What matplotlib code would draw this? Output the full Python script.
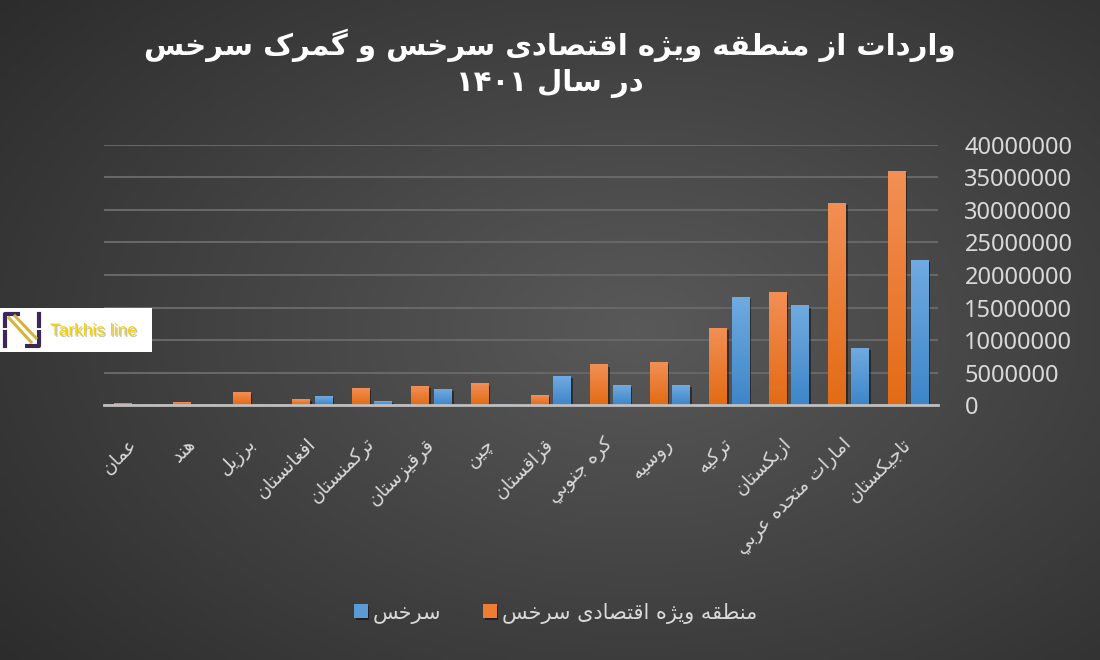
import re
import numpy as np
import matplotlib
matplotlib.use("Agg")
import matplotlib.pyplot as plt
import matplotlib.patheffects as pe
from matplotlib.colors import LinearSegmentedColormap
from matplotlib.patches import Rectangle
from matplotlib.ticker import FuncFormatter

# data
countries = ["عمان", "هند", "برزیل", "افغانستان", "ترکمنستان", "قرقیزستان", "چین",
             "قزاقستان", "کره جنوبي", "روسیه", "ترکیه", "ازبکستان",
             "امارات متحده عربي", "تاجیکستان"]
zone_vals = [200000, 400000, 1900000, 800000, 2600000, 2800000, 3250000,
             1450000, 6150000, 6600000, 11750000, 17200000, 30900000, 35900000]
customs_vals = [0, 0, 0, 1300000, 600000, 2400000, 100000,
                4350000, 3000000, 3000000, 16500000, 15200000, 8650000, 22150000]
zone_name = "منطقه ویژه اقتصادی سرخس"
customs_name = "سرخس"
title_1 = "واردات از منطقه ویژه اقتصادی سرخس و گمرک سرخس"
title_2 = "در سال ۱۴۰۱"
yticks = np.arange(0, 40000001, 5000000)

# --- minimal arabic/persian shaping (matplotlib has no complex text layout) ---
FORMS = {
    'ا': '\uFE8D\uFE8E', 'د': '\uFEA9\uFEAA', 'ر': '\uFEAD\uFEAE', 'ز': '\uFEAF\uFEB0',
    'ژ': '\uFB8A\uFB8B', 'و': '\uFEED\uFEEE',
    'ب': '\uFE8F\uFE90\uFE91\uFE92', 'ت': '\uFE95\uFE96\uFE97\uFE98',
    'ج': '\uFE9D\uFE9E\uFE9F\uFEA0', 'ح': '\uFEA1\uFEA2\uFEA3\uFEA4',
    'خ': '\uFEA5\uFEA6\uFEA7\uFEA8', 'س': '\uFEB1\uFEB2\uFEB3\uFEB4',
    'ص': '\uFEB9\uFEBA\uFEBB\uFEBC', 'ط': '\uFEC1\uFEC2\uFEC3\uFEC4',
    'ع': '\uFEC9\uFECA\uFECB\uFECC', 'غ': '\uFECD\uFECE\uFECF\uFED0',
    'ف': '\uFED1\uFED2\uFED3\uFED4', 'ق': '\uFED5\uFED6\uFED7\uFED8',
    'ل': '\uFEDD\uFEDE\uFEDF\uFEE0', 'م': '\uFEE1\uFEE2\uFEE3\uFEE4',
    'ن': '\uFEE5\uFEE6\uFEE7\uFEE8', 'ه': '\uFEE9\uFEEA\uFEEB\uFEEC',
    'ي': '\uFEF1\uFEF2\uFEF3\uFEF4', 'ی': '\uFBFC\uFBFD\uFBFE\uFBFF',
    'ک': '\uFB8E\uFB8F\uFB90\uFB91', 'گ': '\uFB92\uFB93\uFB94\uFB95',
    'چ': '\uFB7A\uFB7B\uFB7C\uFB7D',
}


def rtl(txt):
    out = []
    for i, c in enumerate(txt):
        f = FORMS.get(c)
        if f is None:
            out.append(c)
            continue
        p = txt[i - 1] if i > 0 else ''
        n = txt[i + 1] if i + 1 < len(txt) else ''
        pj = p in FORMS and len(FORMS[p]) == 4
        nj = n in FORMS and len(f) == 4
        out.append(f[int(pj) + 2 * int(nj)])
    vis = ''.join(out)[::-1]
    return re.sub(r'[0-9\u06F0-\u06F9]+', lambda m: m.group()[::-1], vis)


plt.rcParams['font.family'] = ['DejaVu Sans']
txt_col = "#d9d9d9"

fig = plt.figure(figsize=(11, 6.6), dpi=100)

# background radial gradient
bg = fig.add_axes([0, 0, 1, 1], zorder=-10)
yy, xx = np.mgrid[0:1:200j, 0:1:330j]
d = np.sqrt(((xx - 0.58) / 0.75) ** 2 + ((yy - 0.5) / 0.8) ** 2)
bg_cmap = LinearSegmentedColormap.from_list("bg", ["#595959", "#2c2c2c"])
bg.imshow(np.clip(d, 0, 1), cmap=bg_cmap, vmin=0, vmax=1, aspect='auto', extent=(0, 1, 0, 1))
bg.axis("off")

ax = fig.add_axes([104 / 1100, 1 - 405.3 / 660, (938 - 104) / 1100, 260.6 / 660])
ax.patch.set_alpha(0)

x = np.arange(len(countries))
w = 0.30
b_zone = ax.bar(x - 0.19, zone_vals, w, color="#ed7d31", zorder=3)
b_cust = ax.bar(x + 0.19, customs_vals, w, color="#5b9bd5", zorder=3)

shadow = [pe.SimplePatchShadow(offset=(1.2, -1), shadow_rgbFace="black", alpha=0.45), pe.Normal()]
grads = {"o": LinearSegmentedColormap.from_list("o", ["#e36b14", "#f28f55"]),
         "b": LinearSegmentedColormap.from_list("b", ["#3e86c9", "#70aae0"])}
g = np.linspace(0, 1, 64).reshape(-1, 1)
for bars, key in [(b_zone, "o"), (b_cust, "b")]:
    for r in bars:
        r.set_path_effects(shadow)
        if r.get_height() > 0:
            ax.imshow(g, cmap=grads[key], origin='lower', aspect='auto', zorder=3.5,
                      extent=(r.get_x(), r.get_x() + r.get_width(), 0, r.get_height()))

ax.set_xlim(-0.5, len(countries) - 0.5)
ax.set_ylim(0, 40000000)

ax.yaxis.tick_right()
ax.set_yticks(yticks)
ax.yaxis.set_major_formatter(FuncFormatter(lambda v, p: f"{int(v)}"))
for t in ax.get_yticklabels():
    t.set_fontfamily("Noto Sans")
ax.tick_params(axis='y', length=0, pad=19, labelsize=17, labelcolor=txt_col)
ax.grid(axis='y', color="#676767", lw=1.5, zorder=0)
ax.set_axisbelow(True)
for s in ["top", "left", "right"]:
    ax.spines[s].set_visible(False)
ax.spines["bottom"].set_color("#bfbfbf")
ax.spines["bottom"].set_linewidth(2)
ax.spines["bottom"].set_zorder(4)

ax.set_xticks(x)
ax.set_xticklabels([rtl(c) for c in countries], rotation=45, ha='right', va='center',
                   rotation_mode='anchor', fontsize=13.5, color=txt_col)
ax.tick_params(axis='x', length=0, pad=26)

fig.text(0.5, 1 - 45 / 660, rtl(title_1), ha='center', va='center', fontsize=21,
         fontweight='bold', color="white")
fig.text(0.5, 1 - 83 / 660, rtl(title_2), ha='center', va='center', fontsize=21,
         fontweight='bold', color="white")

fig.legend([b_cust, b_zone], [rtl(customs_name), rtl(zone_name)], loc='center',
           bbox_to_anchor=(0.505, 1 - 613 / 660), ncol=2, frameon=False, fontsize=15,
           labelcolor=txt_col, handlelength=0.65, handleheight=0.65, handletextpad=0.25,
           columnspacing=2.0)

# logo box
lg = fig.add_axes([0, 1 - 352 / 660, 152 / 1100, 44 / 660], zorder=5)
lg.set_xlim(0, 152)
lg.set_ylim(44, 0)
lg.axis("off")
lg.add_patch(Rectangle((0, 0), 152, 44, facecolor="white", edgecolor="none"))
lg.plot([5, 5, 20], [20, 6, 6], color="#3b2858", lw=3, solid_capstyle='butt')
lg.plot([25, 39, 39], [38, 38, 22], color="#3b2858", lw=3, solid_capstyle='butt')
lg.plot([5, 5], [24, 38], color="#3b2858", lw=3)
lg.plot([39, 39], [6, 18], color="#3b2858", lw=3)
lg.plot([9, 31], [10, 34], color="#d8b23a", lw=2.2)
lg.plot([15, 36], [8, 30], color="#d8b23a", lw=2.2)
lg.text(50, 23, "Tarkhis line", fontsize=12.5, color="#f5d200", va='center', ha='left',
        family="Liberation Sans",
        path_effects=[pe.withSimplePatchShadow(offset=(1, -1), shadow_rgbFace="#999999", alpha=0.6)])

fig.savefig("out.png", dpi=100)
